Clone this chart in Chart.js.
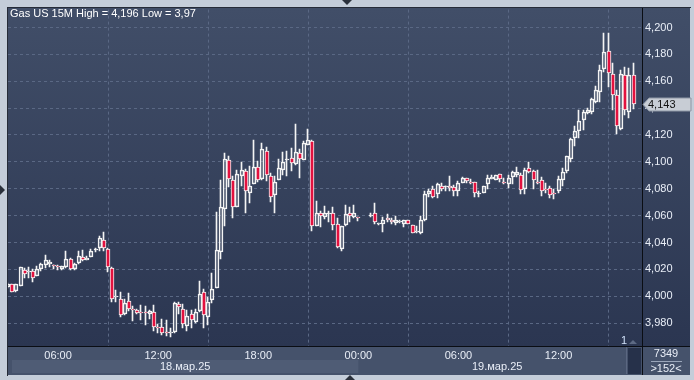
<!DOCTYPE html>
<html lang="en">
<head>
<meta charset="UTF-8">
<title>Gas US 15M</title>
<script src="https://cdn.jsdelivr.net/npm/chart.js"></script>
<style>
  html, body { margin: 0; padding: 0; background: #c4cdd9; }
  #wrap { width: 694px; height: 380px; }
</style>
</head>
<body>
<div id="wrap"><canvas id="chart" width="694" height="380"></canvas></div>
<script>
// 15 minute bars, bar 0 = 18.03 03:00
const timeTicks = [12, 36, 60, 84, 108, 132];
const timeLabels = ['06:00', '12:00', '18:00', '00:00', '06:00', '12:00'];
const dateLabels = ['18.мар.25', '19.мар.25'];
const priceTicks = [3.98, 4.00, 4.02, 4.04, 4.06, 4.08, 4.10, 4.12, 4.14, 4.16, 4.18, 4.20];

const opens = [
  4.0070,4.0091,4.0037,4.0077,4.0197,4.0183,4.0188,4.0151,4.0205,4.0235,
  4.0240,4.0233,4.0222,4.0205,4.0215,4.0279,4.0205,4.0250,4.0291,4.0272,
  4.0289,4.0348,4.0358,4.0422,4.0353,4.0210,3.9993,3.9983,3.9867,3.9963,
  3.9902,3.9901,3.9882,3.9886,3.9870,3.9879,3.9768,3.9770,3.9737,3.9725,
  3.9731,3.9941,3.9908,3.9780,3.9869,3.9810,3.9891,4.0032,3.9849,3.9970,
  4.0062,4.0328,4.0649,4.1015,4.0866,4.0667,4.0896,4.0933,4.0768,4.0835,
  4.0965,4.0872,4.1081,4.0896,4.0753,4.0864,4.0938,4.1019,4.1030,4.0983,
  4.1064,4.1012,4.1128,4.1158,4.0526,4.0617,4.0587,4.0617,4.0620,4.0538,
  4.0353,4.0531,4.0620,4.0587,4.0587,null,null,4.0605,4.0617,4.0540,
  4.0538,4.0583,4.0568,4.0546,4.0551,4.0538,4.0568,4.0531,4.0481,4.0469,
  4.0568,4.0760,4.0797,4.0760,4.0820,4.0821,4.0822,4.0810,4.0780,4.0844,
  4.0879,4.0852,4.0849,4.0765,4.0765,4.0832,4.0874,4.0865,4.0911,4.0850,
  4.0839,4.0889,4.0906,4.0906,4.0795,4.0956,4.0931,4.0850,4.0864,4.0795,
  4.0803,4.0766,4.0783,4.0864,4.0931,4.1022,4.1178,4.1227,4.1309,4.1363,
  4.1368,4.1449,4.1523,4.1689,4.1827,4.1654,4.1499,4.1244,4.1647,4.1368,4.1647
];
const highs = [
  4.0101,4.0093,4.0093,4.0217,4.0210,4.0217,4.0202,4.0222,4.0250,4.0304,
  4.0272,4.0235,4.0235,4.0222,4.0333,4.0281,4.0250,4.0333,4.0341,4.0299,
  4.0353,4.0358,4.0447,4.0477,4.0358,4.0220,4.0048,4.0028,3.9983,4.0025,
  3.9930,3.9908,3.9935,3.9926,3.9897,3.9938,3.9790,3.9830,3.9820,3.9760,
  3.9955,3.9958,3.9940,3.9896,3.9899,3.9908,4.0111,4.0052,3.9993,4.0170,
  4.0625,4.0864,4.1069,4.1044,4.0896,4.0938,4.1000,4.0946,4.0970,4.1163,
  4.1007,4.1138,4.1113,4.0916,4.0896,4.1025,4.1074,4.1081,4.1104,4.1281,
  4.1099,4.1158,4.1242,4.1163,4.0711,4.0637,4.0669,4.0637,4.0667,4.0583,
  4.0526,4.0681,4.0662,4.0681,4.0592,null,null,4.0620,4.0694,4.0545,
  4.0588,4.0612,4.0580,4.0600,4.0566,4.0568,4.0570,4.0533,4.0526,4.0600,
  4.0785,4.0797,4.0822,4.0840,4.0844,4.0823,4.0896,4.0829,4.0854,4.0884,
  4.0879,4.0871,4.0849,4.0783,4.0820,4.0906,4.0906,4.0906,4.0911,4.0882,
  4.0906,4.0931,4.0963,4.0914,4.0956,4.0998,4.0943,4.0943,4.0889,4.0844,
  4.0820,4.0800,4.0894,4.0956,4.1042,4.1178,4.1269,4.1383,4.1388,4.1400,
  4.1474,4.1566,4.1721,4.1960,4.1960,4.1738,4.1536,4.1684,4.1709,4.1696,4.1738
];
const lows = [
  4.0062,4.0030,4.0030,4.0075,4.0136,4.0136,4.0106,4.0148,4.0188,4.0210,
  4.0217,4.0200,4.0195,4.0198,4.0210,4.0198,4.0195,4.0240,4.0264,4.0270,
  4.0289,4.0328,4.0338,4.0338,4.0180,3.9960,3.9960,3.9842,3.9860,3.9890,
  3.9815,3.9865,3.9820,3.9785,3.9830,3.9740,3.9726,3.9710,3.9706,3.9700,
  3.9729,3.9867,3.9760,3.9740,3.9760,3.9798,3.9880,3.9760,3.9785,3.9950,
  4.0060,4.0274,4.0526,4.0815,4.0580,4.0662,4.0817,4.0617,4.0694,4.0835,
  4.0847,4.0864,4.0859,4.0699,4.0617,4.0864,4.0901,4.0896,4.0933,4.0975,
  4.0877,4.1012,4.1128,4.0489,4.0521,4.0518,4.0575,4.0550,4.0496,4.0360,
  4.0336,4.0526,4.0555,4.0583,4.0563,null,null,4.0588,4.0538,4.0533,
  4.0476,4.0556,4.0538,4.0533,4.0548,4.0518,4.0536,4.0470,4.0469,4.0464,
  4.0563,4.0736,4.0731,4.0728,4.0780,4.0785,4.0780,4.0748,4.0748,4.0840,
  4.0840,4.0835,4.0741,4.0741,4.0765,4.0795,4.0869,4.0862,4.0849,4.0839,
  4.0808,4.0832,4.0889,4.0758,4.0758,4.0919,4.0795,4.0839,4.0746,4.0771,
  4.0734,4.0721,4.0765,4.0820,4.0919,4.0998,4.1121,4.1178,4.1240,4.1358,
  4.1358,4.1437,4.1449,4.1672,4.1560,4.1383,4.1210,4.1235,4.1351,4.1326,4.1393
];
const closes = [
  4.0090,4.0032,4.0091,4.0215,4.0165,4.0185,4.0138,4.0205,4.0242,4.0267,
  4.0254,4.0232,4.0221,4.0222,4.0274,4.0200,4.0240,4.0299,4.0272,4.0285,
  4.0338,4.0349,4.0432,4.0358,4.0220,3.9983,4.0001,3.9860,3.9953,3.9906,
  3.9900,3.9872,3.9880,3.9884,3.9893,3.9770,3.9765,3.9723,3.9735,3.9733,
  3.9953,3.9921,3.9790,3.9850,3.9820,3.9879,4.0020,3.9864,3.9960,4.0052,
  4.0341,4.0667,4.1025,4.0872,4.0662,4.0909,4.0941,4.0780,4.0822,4.0963,
  4.0864,4.1094,4.0901,4.0741,4.0852,4.0953,4.1000,4.1020,4.0995,4.1074,
  4.1020,4.1138,4.1163,4.0521,4.0620,4.0597,4.0620,4.0618,4.0531,4.0365,
  4.0526,4.0612,4.0597,4.0620,4.0585,null,null,4.0606,4.0551,4.0543,
  4.0568,4.0568,4.0551,4.0568,4.0563,4.0568,4.0538,4.0472,4.0482,4.0568,
  4.0760,4.0785,4.0736,4.0835,4.0797,4.0822,4.0802,4.0785,4.0844,4.0879,
  4.0859,4.0851,4.0765,4.0766,4.0820,4.0882,4.0889,4.0901,4.0869,4.0849,
  4.0882,4.0924,4.0926,4.0790,4.0943,4.0926,4.0864,4.0849,4.0783,4.0794,
  4.0751,4.0765,4.0874,4.0924,4.1042,4.1170,4.1227,4.1301,4.1368,4.1383,
  4.1467,4.1536,4.1684,4.1820,4.1664,4.1499,4.1264,4.1654,4.1383,4.1647,4.1430
];

const fmt = v => String(+v.toFixed(3)).replace('.', ',');
const bars = opens.map((o, i) => i).filter(i => opens[i] !== null);
const upperWicks = bars.map(i => ({ x: i, y: [Math.max(opens[i], closes[i]), highs[i]] }));
const lowerWicks = bars.map(i => ({ x: i, y: [lows[i], Math.min(opens[i], closes[i])] }));
const bodies = bars.map(i => ({ x: i, y: [opens[i], closes[i]] }));
const hi = Math.max(...highs.filter(v => v !== null));
const lo = Math.min(...lows.filter(v => v !== null));
const lastClose = closes[closes.length - 1];

const FONT = '"Liberation Sans", Arial, sans-serif';
const TXT = '#e9eef7';

// crisp pixels for candles
const snap = {
  id: 'snap',
  beforeDatasetsDraw(chart) {
    chart.data.datasets.forEach((ds, di) => {
      const meta = chart.getDatasetMeta(di);
      meta.data.forEach(el => {
        const p = Math.round(el.x);
        el.x = ds.label === 'body' ? p : p - 0.5;
        el.y = Math.round(el.y);
        el.base = Math.round(el.base);
        if (ds.label === 'body' && Math.abs(el.y - el.base) < 1) el.base = el.y + 1;
      });
    });
  }
};

const frame = {
  id: 'frame',
  beforeDraw(chart) {
    const c = chart.ctx;
    c.save();
    c.fillStyle = '#c4cdd9';
    c.fillRect(0, 0, 694, 380);
    const g = c.createLinearGradient(0, 8, 0, 346);
    g.addColorStop(0, '#414e68');
    g.addColorStop(1, '#2b3651');
    c.fillStyle = g;
    c.fillRect(8, 8, 682, 338);
    c.fillStyle = '#45526b';
    c.fillRect(8, 347, 682, 28);
    const x = chart.scales.x;
    const dayEdge = x.getPixelForValue(84);
    c.fillStyle = '#4f5c75';
    c.fillRect(12, 360, dayEdge - 12, 13);
    c.restore();
  },
  afterDraw(chart) {
    const c = chart.ctx;
    const x = chart.scales.x, y = chart.scales.y;
    c.save();
    // borders
    c.fillStyle = '#262c38';
    c.fillRect(7, 7, 684, 1);
    c.fillRect(7, 7, 1, 369);
    c.fillStyle = '#0a0d13';
    c.fillRect(642, 8, 1, 367);
    c.fillRect(8, 346, 682, 1);
    // scroll thumb
    c.fillStyle = '#5b6781';
    c.fillRect(626, 347, 1, 27);
    c.fillStyle = '#26314a';
    c.fillRect(628, 348, 13, 26);

    c.font = '11px ' + FONT;
    c.textBaseline = 'middle';
    // title
    c.fillStyle = '#ffffff';
    c.textAlign = 'left';
    c.fillText('Gas US 15M High = ' + fmt(hi) + ' Low = ' + fmt(lo), 10, 14);

    // dates
    const dayEdge = x.getPixelForValue(84);
    c.fillStyle = TXT;
    c.textAlign = 'center';
    c.fillText(dateLabels[0], (12 + dayEdge) / 2, 367);
    c.fillText(dateLabels[1], (dayEdge + 626) / 2 + 5, 367);

    // bottom-right counter box
    c.fillText('7349', 666, 354);
    c.fillStyle = '#9aa6ba';
    c.fillRect(651, 361, 31, 1);
    c.fillStyle = TXT;
    c.fillText('>152<', 666, 369);

    // bar marker
    c.fillStyle = '#cfe0f7';
    c.fillText('1', 624, 341);
    c.fillStyle = '#5d6a84';
    c.beginPath();
    c.moveTo(629, 344); c.lineTo(633, 340); c.lineTo(637, 344); c.closePath();
    c.fill();

    // last price tag
    const py = Math.round(y.getPixelForValue(lastClose)) + 0.5;
    c.beginPath();
    c.moveTo(643, py);
    c.lineTo(649, py - 6.5);
    c.lineTo(691, py - 6.5);
    c.lineTo(691, py + 6.5);
    c.lineTo(649, py + 6.5);
    c.closePath();
    c.fillStyle = '#c8cdd5';
    c.fill();
    c.strokeStyle = '#8d96a4';
    c.lineWidth = 1;
    c.stroke();
    c.fillStyle = '#111111';
    c.textAlign = 'left';
    c.fillText(fmt(lastClose), 648, py);

    // edge triangles
    c.fillStyle = '#2a303b';
    c.beginPath(); c.moveTo(342, 0); c.lineTo(352, 0); c.lineTo(347, 5); c.closePath(); c.fill();
    c.beginPath(); c.moveTo(0, 185); c.lineTo(5, 190); c.lineTo(0, 195); c.closePath(); c.fill();
    c.beginPath(); c.moveTo(345, 380); c.lineTo(350, 375); c.lineTo(355, 380); c.closePath(); c.fill();
    c.restore();
  }
};

const wickStyle = {
  backgroundColor: '#f4f4f4',
  borderWidth: 0,
  barThickness: 1,
  grouped: false,
  order: 2
};

new Chart(document.getElementById('chart'), {
  type: 'bar',
  data: {
    datasets: [
      Object.assign({ label: 'upper', data: upperWicks }, wickStyle),
      Object.assign({ label: 'lower', data: lowerWicks }, wickStyle),
      {
        label: 'body',
        data: bodies,
        backgroundColor: ctx => (ctx.raw && ctx.raw.y[1] < ctx.raw.y[0]) ? '#e3113f' : 'rgba(0,0,0,0)',
        borderColor: '#f4f4f4',
        borderWidth: 1,
        borderSkipped: false,
        barThickness: 4,
        grouped: false,
        order: 1
      }
    ]
  },
  options: {
    responsive: false,
    devicePixelRatio: 1,
    animation: false,
    layout: { padding: { left: 8, top: 8, right: 4, bottom: 5 } },
    plugins: { legend: { display: false }, tooltip: { enabled: false } },
    scales: {
      x: {
        type: 'linear',
        min: 0,
        max: 152,
        offset: false,
        afterFit: s => { s.height = 29; },
        afterBuildTicks: s => { s.ticks = timeTicks.map(v => ({ value: v })); },
        ticks: {
          autoSkip: false,
          maxRotation: 0,
          padding: 3,
          color: TXT,
          font: { family: FONT, size: 11 },
          callback: (v, i) => timeLabels[i]
        },
        grid: { color: '#5a6884', drawTicks: false, lineWidth: 1 },
        border: { display: false, dash: [3, 3] }
      },
      y: {
        position: 'right',
        min: 3.96296,
        max: 4.21333,
        afterFit: s => { s.width = 48; },
        afterBuildTicks: s => { s.ticks = priceTicks.map(v => ({ value: v })); },
        ticks: {
          padding: 3,
          color: TXT,
          font: { family: FONT, size: 11 },
          callback: v => v.toFixed(3).replace('.', ',')
        },
        grid: { color: '#5a6884', drawTicks: false, lineWidth: 1 },
        border: { display: false, dash: [3, 3] }
      }
    }
  },
  plugins: [frame, snap]
});
</script>
</body>
</html>
